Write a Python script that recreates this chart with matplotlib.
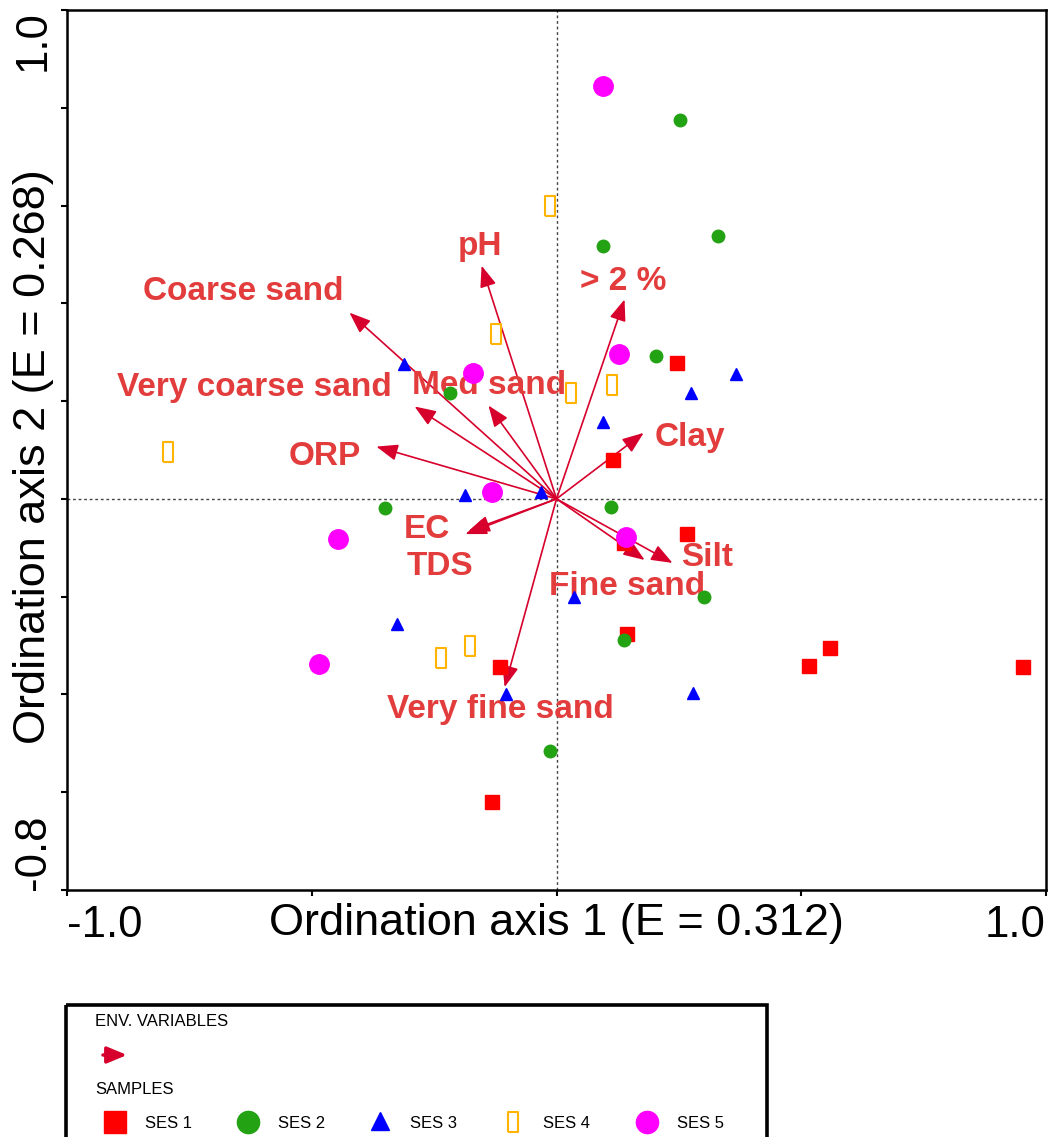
import numpy as np
import matplotlib.pyplot as plt
from matplotlib.path import Path
from matplotlib.patches import Rectangle

plt.rcParams['font.family'] = ['Liberation Sans', 'DejaVu Sans']

# sample scores (axis 1, axis 2)
ses1_x = [0.247, 0.116, 0.266, 0.137, 0.145, 0.515, 0.558, 0.952, -0.116, -0.131]
ses1_y = [0.277, 0.080, -0.072, -0.090, -0.277, -0.342, -0.305, -0.344, -0.344, -0.621]
ses2_x = [0.253, 0.329, 0.096, 0.204, -0.217, -0.351, 0.112, 0.302, 0.137, -0.014]
ses2_y = [0.775, 0.537, 0.518, 0.293, 0.217, -0.018, -0.016, -0.201, -0.289, -0.516]
ses3_x = [-0.311, 0.366, 0.274, 0.096, -0.186, -0.031, 0.035, -0.325, -0.104, 0.278]
ses3_y = [0.275, 0.255, 0.216, 0.157, 0.007, 0.015, -0.200, -0.255, -0.399, -0.397]
ses4_x = [-0.014, -0.123, 0.029, 0.114, -0.793, -0.176, -0.235]
ses4_y = [0.600, 0.338, 0.217, 0.232, 0.096, -0.301, -0.326]
ses5_x = [0.094, 0.127, -0.170, -0.131, 0.141, -0.447, -0.486]
ses5_y = [0.844, 0.297, 0.258, 0.014, -0.078, -0.082, -0.338]

# environmental variables: arrow tips and label positions
env_names = ['pH', '> 2 %', 'Coarse sand', 'Very coarse sand', 'Med sand', 'ORP',
             'Clay', 'EC', 'TDS', 'Fine sand', 'Silt', 'Very fine sand']
env_x = [-0.153, 0.139, -0.423, -0.290, -0.139, -0.368, 0.178, -0.186, -0.180, 0.180, 0.237, -0.106]
env_y = [0.477, 0.408, 0.381, 0.189, 0.191, 0.107, 0.135, -0.072, -0.066, -0.125, -0.131, -0.385]
lab_x = [-0.156, 0.136, -0.640, -0.618, -0.138, -0.473, 0.273, -0.265, -0.238, 0.144, 0.308, -0.115]
lab_y = [0.516, 0.445, 0.424, 0.228, 0.232, 0.087, 0.126, -0.062, -0.138, -0.179, -0.120, -0.430]

W, H = 1049, 1137
arrow_col = '#d7002c'
label_col = '#e23c3c'
rect_marker = Path([(-0.5, -1), (0.5, -1), (0.5, 1), (-0.5, 1), (-0.5, -1)])

fig = plt.figure(figsize=(W / 100, H / 100), dpi=100)
ax = fig.add_axes([67 / W, 1 - 890 / H, 979 / W, 880 / H])
ax.set_xlim(-1.0, 1.0)
ax.set_ylim(-0.8, 1.0)

ax.axhline(0, color='#444444', lw=1, ls=(0, (2, 2)), zorder=1)
ax.axvline(0, color='#444444', lw=1, ls=(0, (2, 2)), zorder=1)

for i in range(len(env_names)):
    ax.annotate('', xy=(env_x[i], env_y[i]), xytext=(0, 0),
                arrowprops=dict(arrowstyle='-|>,head_length=13,head_width=5', mutation_scale=1,
                                color=arrow_col, lw=1.2, shrinkA=0, shrinkB=0), zorder=2)
    ax.text(lab_x[i], lab_y[i], env_names[i], color=label_col, fontsize=24, fontweight='bold',
            ha='center', va='center', zorder=3)

ax.plot(ses1_x, ses1_y, 's', color='#ff0000', ms=9.5, ls='none', zorder=4)
ax.plot(ses2_x, ses2_y, 'o', color='#23a213', ms=9, ls='none', zorder=4)
ax.plot(ses3_x, ses3_y, '^', color='#0000ff', ms=9, ls='none', zorder=4)
ax.plot(ses4_x, ses4_y, marker=rect_marker, color='#ffb400', mfc='none', mew=1.5, ms=14.4, ls='none', zorder=4)
ax.plot(ses5_x, ses5_y, 'o', color='#ff00ff', ms=14, ls='none', zorder=4)

# axes: ticks and labels in the CANOCO style
for s in ax.spines.values():
    s.set_linewidth(1.8)
ax.set_xticks([-1.0, -0.5, 0, 0.5, 1.0])
ax.set_xticklabels(['-1.0', '', '', '', '1.0'])
ax.set_yticks(np.round(np.arange(-0.8, 1.01, 0.2), 1))
ax.set_yticklabels(['-0.8'] + [''] * 8 + ['1.0'], rotation=90)
ax.tick_params(direction='out', length=4.5, width=1.5, labelsize=31.5)
ax.tick_params(axis='x', pad=6)
ax.tick_params(axis='y', pad=5)
xl = ax.get_xticklabels()
xl[0].set_ha('left')
xl[-1].set_ha('right')
yl = ax.get_yticklabels()
yl[0].set_va('bottom')
yl[-1].set_va('top')
for t in yl:
    t.set_ha('right')

ax.set_xlabel('Ordination axis 1 (E = 0.312)', fontsize=32.5)
ax.xaxis.set_label_coords(0.5, -0.015)
ax.set_ylabel('Ordination axis 2 (E = 0.268)', fontsize=32.5)
ax.yaxis.set_label_coords(-0.0133, 0.493)

# legend panel (pixel coordinates)
lax = fig.add_axes([0, 0, 1, 1])
lax.set_xlim(0, W)
lax.set_ylim(H, 0)
lax.axis('off')
lax.add_patch(Rectangle((66, 1005), 701, 160, fill=False, lw=2.6, ec='black'))
lax.text(95, 1022, 'ENV. VARIABLES', fontsize=12, va='center', ha='left')
lax.annotate('', xy=(127, 1055), xytext=(103, 1055),
             arrowprops=dict(arrowstyle='-|>,head_length=12,head_width=5', mutation_scale=1,
                             color=arrow_col, lw=2.5, shrinkA=0, shrinkB=0))
lax.text(95, 1089, 'SAMPLES', fontsize=12, va='center', ha='left')

leg_labels = ['SES 1', 'SES 2', 'SES 3', 'SES 4', 'SES 5']
leg_mx = [115, 248, 380, 513, 647]
lax.plot(leg_mx[0], 1122, 's', color='#ff0000', ms=15.5)
lax.plot(leg_mx[1], 1122, 'o', color='#23a213', ms=16)
lax.plot(leg_mx[2], 1121, '^', color='#0000ff', ms=13.5)
lax.plot(leg_mx[3], 1122, marker=rect_marker, color='#ffb400', mfc='none', mew=1.5, ms=15)
lax.plot(leg_mx[4], 1122, 'o', color='#ff00ff', ms=16)
for i in range(5):
    lax.text(leg_mx[i] + 30, 1123, leg_labels[i], fontsize=12, va='center', ha='left')

plt.savefig('out.png', dpi=100)
